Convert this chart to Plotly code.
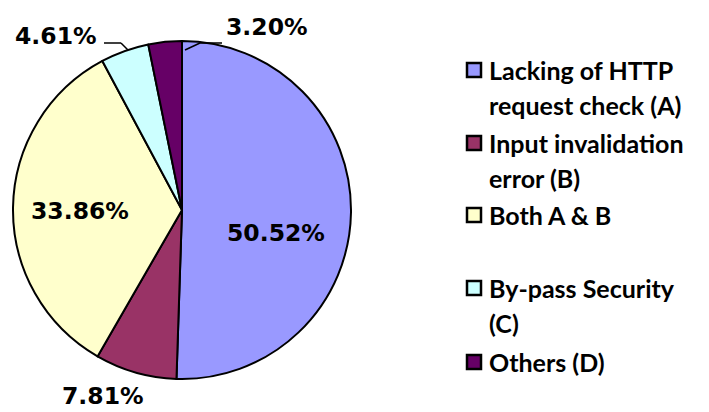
import plotly.graph_objects as go

# ---- data ----
categories = ["Lacking of HTTP request check (A)", "Input invalidation error (B)",
              "Both A & B", "By-pass Security (C)", "Others (D)"]
legend_lines = [["Lacking of HTTP", "request check (A)"],
                ["Input invalidation", "error (B)"],
                ["Both A & B"],
                ["By-pass Security", "(C)"],
                ["Others (D)"]]
values = [50.52, 7.81, 33.86, 4.61, 3.20]
colors = ["#9999FF", "#993366", "#FFFFCC", "#CCFFFF", "#660066"]

W, H = 709, 412
def px(x): return x / W
def py(y): return 1 - y / H

fig = go.Figure()
fig.add_trace(go.Pie(
    labels=categories, values=values, sort=False, direction="clockwise", rotation=0,
    marker=dict(colors=colors, line=dict(color="black", width=2)),
    textinfo="none", showlegend=False, hole=0,
    domain=dict(x=[px(13), px(351)], y=[py(379), py(41)]),
))

# percentage labels
label_pos = [(276, 233), (103, 396), (80, 211), (56, 36), (267, 27)]
pct_font = dict(family="DejaVu Sans", size=23.5, color="black", weight="bold")
annotations = []
for v, (x, y) in zip(values, label_pos):
    annotations.append(dict(x=px(x), y=py(y), xref="paper", yref="paper",
                            text=f"{v:.2f}%", showarrow=False, font=pct_font,
                            xanchor="center", yanchor="middle"))

# leader lines
shapes = []
leaders = [[(104, 43), (121, 43), (128, 50)], [(222, 43), (200, 43), (185, 50)]]
for pts in leaders:
    for (x0, y0), (x1, y1) in zip(pts[:-1], pts[1:]):
        shapes.append(dict(type="line", xref="paper", yref="paper",
                           x0=px(x0), y0=py(y0), x1=px(x1), y1=py(y1),
                           line=dict(color="black", width=1.5)))

# manual legend
leg_font = dict(family="Lato", size=25, color="black", weight="bold")
item_y = [70, 143, 215, 288, 362]
line_gap = 35
for lines, c, y in zip(legend_lines, colors, item_y):
    shapes.append(dict(type="rect", xref="paper", yref="paper",
                       x0=px(467), x1=px(481), y0=py(y - 7), y1=py(y + 7),
                       fillcolor=c, line=dict(color="black", width=2.5)))
    for i, t in enumerate(lines):
        annotations.append(dict(x=px(487), y=py(y + i * line_gap), xref="paper", yref="paper",
                                text=t, showarrow=False, font=leg_font,
                                xanchor="left", yanchor="middle"))

fig.update_layout(width=W, height=H, margin=dict(l=0, r=0, t=0, b=0),
                  paper_bgcolor="white", plot_bgcolor="white",
                  annotations=annotations, shapes=shapes)
fig.write_html("out.html")
